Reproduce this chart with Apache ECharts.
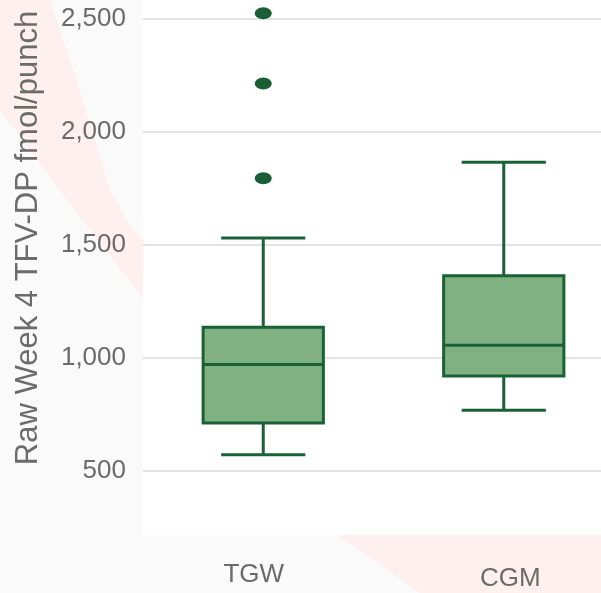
<!DOCTYPE html>
<html>
<head>
<meta charset="utf-8">
<title>Raw Week 4 TFV-DP</title>
<script src="https://cdn.jsdelivr.net/npm/echarts@6/dist/echarts.min.js"></script>
<style>
  html, body { margin: 0; padding: 0; background: #fafafa; }
  #chart { width: 601px; height: 593px; }
</style>
</head>
<body>
<div id="chart"></div>
<script>
// Groups on the x axis
const categories = ['TGW', 'CGM'];

// Five-number summaries per group (fmol/punch)
const whiskerLow  = [572, 768];
const quartile1   = [712, 920];
const medians     = [970, 1055];
const quartile3   = [1135, 1363];
const whiskerHigh = [1529, 1864];

// Outlying points: group index and value
const outlierGroup  = [0, 0, 0];
const outlierValues = [1793, 2212, 2522];

const BOX_FILL = '#80b182';
const BOX_LINE = '#1a6236';
const TEXT_GREY = '#6b6b6b';

const boxData = categories.map((c, i) => [i, whiskerLow[i], quartile1[i], medians[i], quartile3[i], whiskerHigh[i]]);
const outlierData = outlierValues.map((v, k) => [outlierGroup[k], v]);

function renderBox(params, api) {
  const i = api.value(0);
  const lo = api.coord([i, api.value(1)]);
  const q1 = api.coord([i, api.value(2)]);
  const md = api.coord([i, api.value(3)]);
  const q3 = api.coord([i, api.value(4)]);
  const hi = api.coord([i, api.value(5)]);
  const band = api.size([1, 0])[0];
  const boxW = band * 0.5;
  const capW = band * 0.35;
  const x = lo[0];
  const stroke = { stroke: BOX_LINE, lineWidth: 3, fill: null };
  return {
    type: 'group',
    children: [
      { type: 'line', shape: { x1: x, y1: q1[1], x2: x, y2: lo[1] }, style: stroke },
      { type: 'line', shape: { x1: x, y1: q3[1], x2: x, y2: hi[1] }, style: stroke },
      { type: 'line', shape: { x1: x - capW / 2, y1: lo[1], x2: x + capW / 2, y2: lo[1] }, style: stroke },
      { type: 'line', shape: { x1: x - capW / 2, y1: hi[1], x2: x + capW / 2, y2: hi[1] }, style: stroke },
      { type: 'rect', shape: { x: x - boxW / 2, y: q3[1], width: boxW, height: q1[1] - q3[1] },
        style: { fill: BOX_FILL, stroke: BOX_LINE, lineWidth: 3 } },
      { type: 'line', shape: { x1: x - boxW / 2, y1: md[1], x2: x + boxW / 2, y2: md[1] }, style: stroke }
    ]
  };
}

const chart = echarts.init(document.getElementById('chart'), null, { renderer: 'canvas' });

chart.setOption({
  backgroundColor: '#fafafa',
  animation: false,
  textStyle: { fontFamily: 'Liberation Sans, Arial, sans-serif' },
  graphic: [
    // faint decorative swooshes behind the chart
    { type: 'polygon', z: -10, silent: true,
      shape: { points: [[0, 0], [50, 0], [80, 90], [110, 190], [130, 225], [147, 245], [147, 303], [67, 200], [0, 110]] },
      style: { fill: '#fdf0ee' } },
    { type: 'polygon', z: -10, silent: true,
      shape: { points: [[337, 535], [373, 560], [420, 593], [601, 593], [601, 535]] },
      style: { fill: '#fdf0ee' } },
    { type: 'text', z: 10, silent: true,
      x: 28, y: 238, rotation: Math.PI / 2,
      style: { text: 'Raw Week 4 TFV-DP fmol/punch', fill: TEXT_GREY, font: '31px "Liberation Sans", Arial, sans-serif',
               align: 'center', verticalAlign: 'middle' } }
  ],
  grid: {
    left: 143, right: -23, top: 0, bottom: 58,
    containLabel: false,
    outerBoundsMode: 'none',
    show: true, backgroundColor: '#ffffff', borderWidth: 0
  },
  xAxis: {
    type: 'category',
    data: [
      { value: categories[0], textStyle: { padding: [0, 19, 0, 0] } },
      { value: categories[1], textStyle: { padding: [4, 0, 0, 13] } }
    ],
    axisLine: { show: false },
    axisTick: { show: false },
    axisLabel: { color: TEXT_GREY, fontSize: 26, margin: 27 },
    splitLine: { show: false }
  },
  yAxis: {
    type: 'value',
    min: 217,
    max: 2581,
    splitNumber: 5,
    axisLine: { show: false },
    axisTick: { show: false },
    axisLabel: {
      color: TEXT_GREY, fontSize: 26, margin: 17,
      showMinLabel: false, showMaxLabel: false,
      formatter: v => v.toLocaleString('en-US')
    },
    splitLine: { show: true, showMinLine: false, showMaxLine: false, lineStyle: { color: '#e3e3e3', width: 2 } }
  },
  series: [
    {
      type: 'custom',
      renderItem: renderBox,
      data: boxData,
      encode: { x: 0, y: [1, 2, 3, 4, 5] },
      z: 3
    },
    {
      type: 'scatter',
      data: outlierData,
      symbol: 'circle',
      symbolSize: [17, 12],
      itemStyle: { color: '#1a5e36', opacity: 1 },
      z: 4
    }
  ]
});
</script>
</body>
</html>
